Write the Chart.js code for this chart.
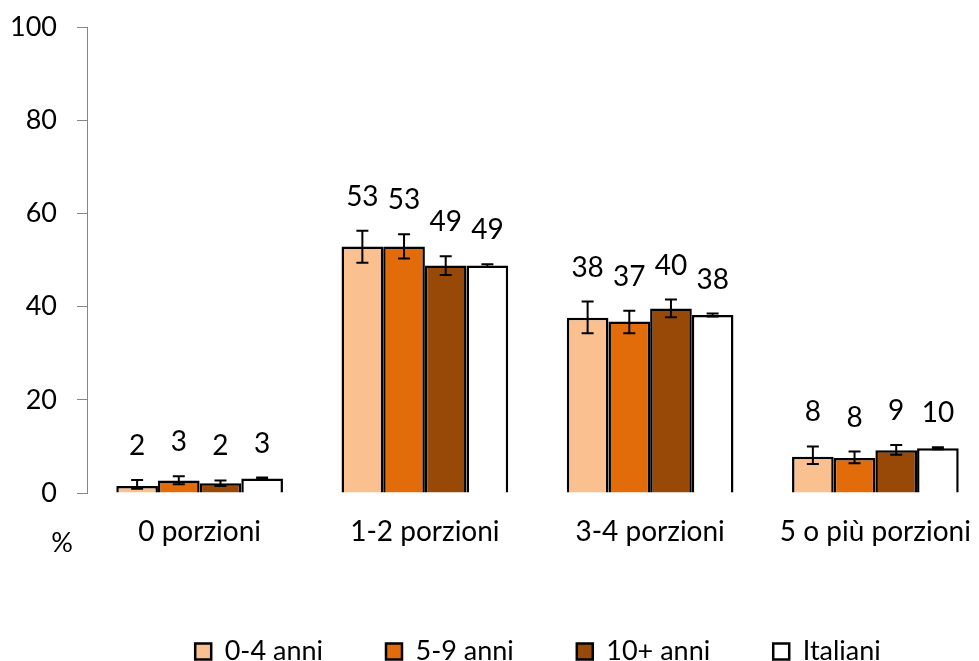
<!DOCTYPE html>
<html>
<head>
<meta charset="utf-8">
<script src="https://cdn.jsdelivr.net/npm/chart.js@4"></script>
<style>
  body { margin: 0; overflow: hidden; background: #fff; }
  #wrap { width: 1076px; height: 661px; }
</style>
</head>
<body>
<div id="wrap"><canvas id="porzioniChart" width="1076" height="661"></canvas></div>
<script>
// categorie e serie
const categorie = ['0 porzioni', '1-2 porzioni', '3-4 porzioni', '5 o più porzioni'];
const etichetteSerie = ['0-4 anni', '5-9 anni', '10+ anni', 'Italiani'];

const valori04 = [1.5, 52.9, 37.6, 7.8];
const valori59 = [2.7, 52.9, 36.8, 7.5];
const valori10 = [2.1, 48.8, 39.6, 9.2];
const valoriIta = [3.1, 48.8, 38.2, 9.6];

// intervalli di confidenza (min / max)
const errMin04 = [0.9, 49.4, 34.3, 6.2];
const errMax04 = [2.8, 56.3, 41.1, 10.0];
const errMin59 = [1.9, 50.3, 34.3, 6.4];
const errMax59 = [3.6, 55.5, 39.1, 8.9];
const errMin10 = [1.5, 46.8, 37.7, 8.2];
const errMax10 = [2.7, 50.8, 41.5, 10.3];
const errMinIta = [2.9, 48.5, 37.9, 9.4];
const errMaxIta = [3.3, 49.1, 38.5, 9.8];

const yTicks = [0, 20, 40, 60, 80, 100];

const font = 'Lato, "Open Sans", sans-serif';

// barre di errore + etichette valori + "%"
const errorBarsPlugin = {
    id: 'errorBars',
    afterDatasetsDraw(chart) {
        const ctx = chart.ctx;
        const y = chart.scales.y;
        ctx.save();
        chart.data.datasets.forEach((ds, i) => {
            const meta = chart.getDatasetMeta(i);
            meta.data.forEach((bar, j) => {
                const top = y.getPixelForValue(ds.errMax[j]);
                const bottom = y.getPixelForValue(ds.errMin[j]);
                ctx.strokeStyle = '#000';
                ctx.lineWidth = 2;
                ctx.beginPath();
                ctx.moveTo(bar.x, top);
                ctx.lineTo(bar.x, bottom);
                ctx.moveTo(bar.x - 6, top);
                ctx.lineTo(bar.x + 6, top);
                ctx.moveTo(bar.x - 6, bottom);
                ctx.lineTo(bar.x + 6, bottom);
                ctx.stroke();

                ctx.fillStyle = '#000';
                ctx.font = '28px ' + font;
                ctx.textAlign = 'center';
                ctx.textBaseline = 'middle';
                ctx.fillText(Math.round(ds.data[j]), bar.x, top - 34);
            });
        });
        ctx.font = '27px ' + font;
        ctx.textAlign = 'center';
        ctx.textBaseline = 'middle';
        ctx.fillStyle = '#000';
        ctx.fillText('%', 62, 543);
        ctx.restore();
    }
};

const ctx = document.getElementById('porzioniChart').getContext('2d');
new Chart(ctx, {
    type: 'bar',
    data: {
        labels: categorie,
        datasets: [
            { label: etichetteSerie[0], data: valori04, errMin: errMin04, errMax: errMax04, backgroundColor: '#FAC090' },
            { label: etichetteSerie[1], data: valori59, errMin: errMin59, errMax: errMax59, backgroundColor: '#E36C0A' },
            { label: etichetteSerie[2], data: valori10, errMin: errMin10, errMax: errMax10, backgroundColor: '#984807' },
            { label: etichetteSerie[3], data: valoriIta, errMin: errMinIta, errMax: errMaxIta, backgroundColor: '#FFFFFF' }
        ].map(d => Object.assign(d, { borderColor: '#000', borderWidth: 2.5, categoryPercentage: 0.74, barPercentage: 1 }))
    },
    options: {
        responsive: false,
        animation: false,
        layout: { padding: { top: 0, right: 0, bottom: -14, left: 0 } },
        plugins: {
            tooltip: { enabled: false },
            legend: {
                position: 'bottom',
                labels: {
                    font: { family: font, size: 27 },
                    color: '#000',
                    boxWidth: 16,
                    boxHeight: 16,
                    padding: 63
                }
            }
        },
        scales: {
            x: {
                grid: { display: false },
                border: { display: false },
                ticks: { color: '#000', font: { family: font, size: 28 }, padding: 14, maxRotation: 0 },
                afterFit(scale) {
                    scale.height = 82;
                    scale.paddingLeft = 0;
                    scale.paddingRight = 88;
                }
            },
            y: {
                min: 0,
                max: 100,
                afterBuildTicks(scale) { scale.ticks = yTicks.map(v => ({ value: v })); },
                grid: { drawOnChartArea: false, drawTicks: true, tickLength: 10, color: '#868686' },
                border: { color: '#868686', width: 1 },
                ticks: { color: '#000', font: { family: font, size: 27 }, padding: 20 },
                afterFit(scale) {
                    scale.width = 87;
                    scale.paddingTop = 27;
                    scale.paddingBottom = 0;
                }
            }
        }
    },
    plugins: [errorBarsPlugin]
});
</script>
</body>
</html>
